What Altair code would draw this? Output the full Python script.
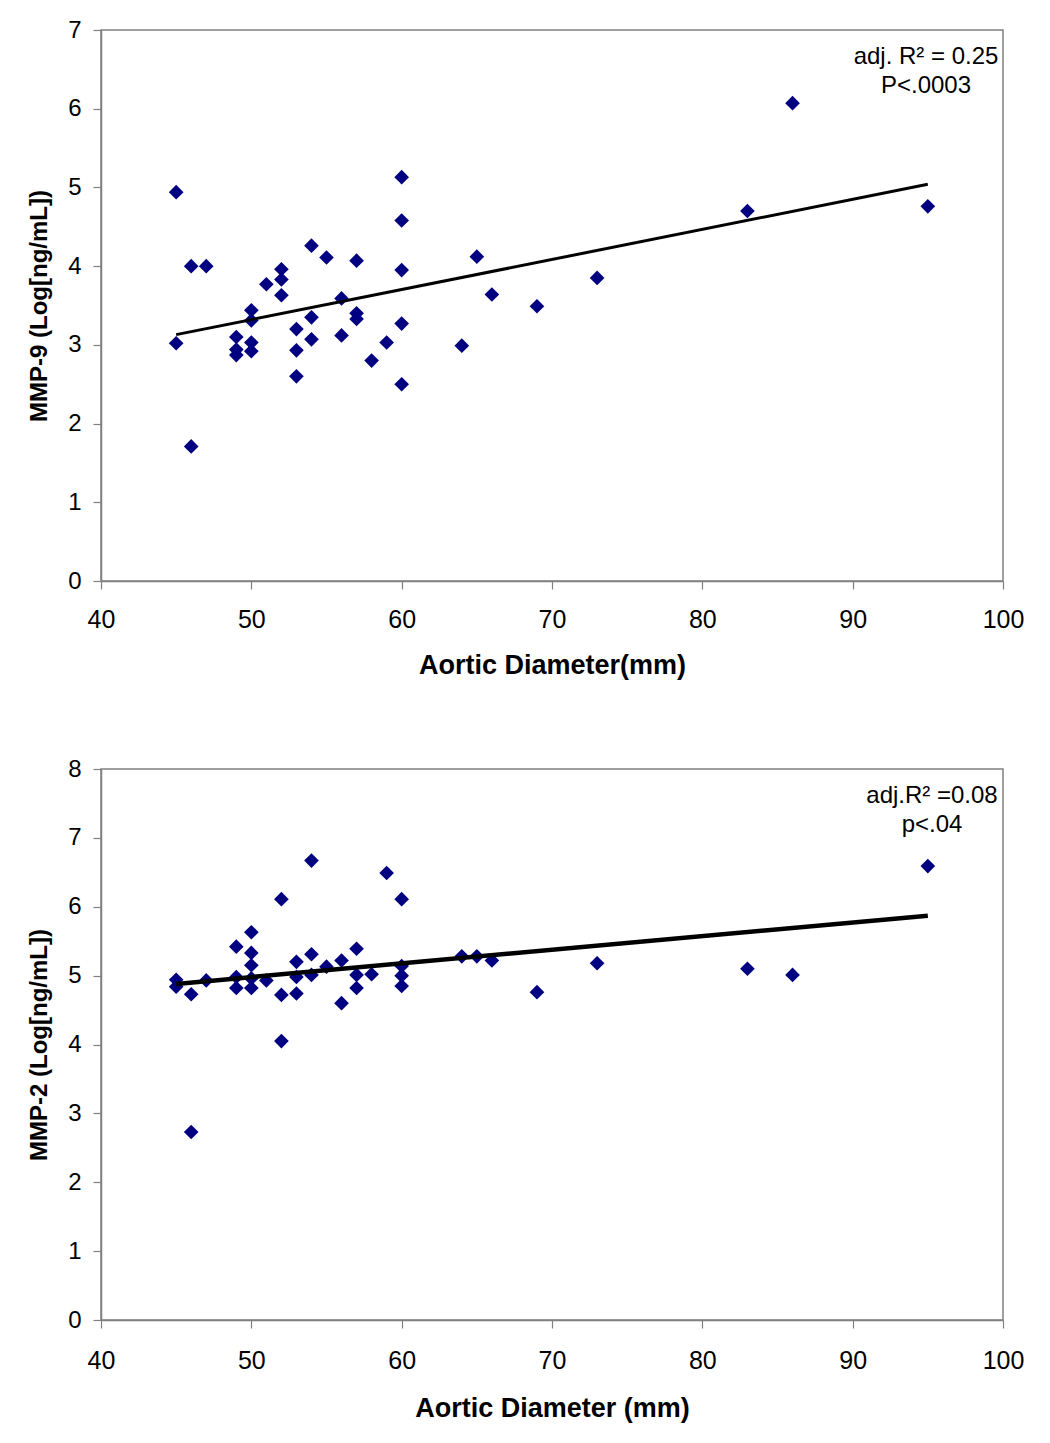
import altair as alt
import pandas as pd

# ---- Top panel: MMP-9 ----
top_x = [45, 45, 46, 46, 47, 49, 49, 49, 50, 50, 50, 50, 51, 52, 52, 52,
         53, 53, 53, 54, 54, 54, 55, 56, 56, 57, 57, 57, 58, 59,
         60, 60, 60, 60, 60, 64, 65, 66, 69, 73, 83, 86, 95]
top_y = [4.94, 3.02, 4.00, 1.71, 4.00, 3.10, 2.94, 2.87, 3.44, 3.31, 3.03, 2.92, 3.77, 3.96, 3.83, 3.63,
         3.20, 2.93, 2.60, 4.26, 3.35, 3.07, 4.11, 3.59, 3.12, 4.07, 3.40, 3.33, 2.80, 3.03,
         5.13, 4.58, 3.95, 3.27, 2.50, 2.99, 4.12, 3.64, 3.49, 3.85, 4.70, 6.07, 4.76]
top_fit_x = [45, 95]
top_fit_y = [3.13, 5.04]

# ---- Bottom panel: MMP-2 ----
bot_x = [45, 45, 46, 46, 47, 49, 49, 49, 50, 50, 50, 50, 50, 51, 52, 52, 52,
         53, 53, 53, 54, 54, 54, 55, 56, 56, 57, 57, 57, 58, 59,
         60, 60, 60, 60, 64, 65, 66, 69, 73, 83, 86, 95]
bot_y = [4.94, 4.84, 4.73, 2.73, 4.93, 5.42, 4.98, 4.82, 5.63, 5.33, 5.15, 4.96, 4.82, 4.93, 6.11, 4.72, 4.05,
         5.20, 4.98, 4.74, 6.67, 5.31, 5.01, 5.13, 5.22, 4.60, 5.39, 5.01, 4.82, 5.02, 6.49,
         6.11, 5.14, 5.00, 4.85, 5.28, 5.28, 5.22, 4.76, 5.18, 5.10, 5.01, 6.59]
bot_fit_x = [45, 95]
bot_fit_y = [4.88, 5.87]

top_pts = pd.DataFrame({"x": top_x, "y": top_y})
top_fit = pd.DataFrame({"x": top_fit_x, "y": top_fit_y})
bot_pts = pd.DataFrame({"x": bot_x, "y": bot_y})
bot_fit = pd.DataFrame({"x": bot_fit_x, "y": bot_fit_y})

FONT = "Liberation Sans"
W, H = 902, 551


def panel(pts, fit, ymax, ytitle, xtitle, lines, tx, ty, lw, lpad, tpad):
    xs = alt.Scale(domain=[40, 100], nice=False, zero=False)
    ys = alt.Scale(domain=[0, ymax], nice=False)
    xax = alt.Axis(values=list(range(40, 101, 10)), format="d", title=xtitle, grid=False,
                   labelPadding=lpad, titlePadding=tpad, labelFlush=False,
                   labelFontSize=25, titleFontSize=27)
    yax = alt.Axis(values=list(range(0, ymax + 1)), format="d", title=ytitle, grid=False,
                   labelPadding=12, titlePadding=16, labelFontSize=24, titleFontSize=24)
    points = alt.Chart(pts).mark_point(
        shape="diamond", filled=True, color="#000080", size=215, opacity=1
    ).encode(x=alt.X("x:Q", scale=xs, axis=xax), y=alt.Y("y:Q", scale=ys, axis=yax))
    line = alt.Chart(fit).mark_line(color="black", strokeWidth=lw).encode(
        x=alt.X("x:Q", scale=xs), y=alt.Y("y:Q", scale=ys))
    txt = alt.Chart(pd.DataFrame({"t": [0]})).mark_text(
        font=FONT, fontSize=24, align="center", baseline="middle",
        lineHeight=29, color="black", text=lines
    ).encode(x=alt.value(tx), y=alt.value(ty))
    return alt.layer(points, line, txt).properties(width=W, height=H)


top = panel(top_pts, top_fit, 7, "MMP-9 (Log[ng/mL])", "Aortic Diameter(mm)",
            ["adj. R² = 0.25", "P<.0003"], 825, 27, 3, 18, 20)
bottom = panel(bot_pts, bot_fit, 8, "MMP-2 (Log[ng/mL])", "Aortic Diameter (mm)",
               ["adj.R² =0.08", "p<.04"], 831, 27, 4.5, 20, 22)

chart = alt.vconcat(top, bottom, spacing=77).properties(
    padding={"left": 18, "top": 9, "right": 5, "bottom": 5},
    background="white"
).configure_view(
    stroke="#808080", strokeWidth=1.5
).configure_axis(
    labelFont=FONT, labelColor="black",
    titleFont=FONT, titleFontWeight="bold", titleColor="black",
    domainColor="#808080", domainWidth=1.5, tickColor="#808080", tickSize=8, tickWidth=1.2
)

chart.save("out.html", embed_options={"renderer": "svg", "actions": False})
